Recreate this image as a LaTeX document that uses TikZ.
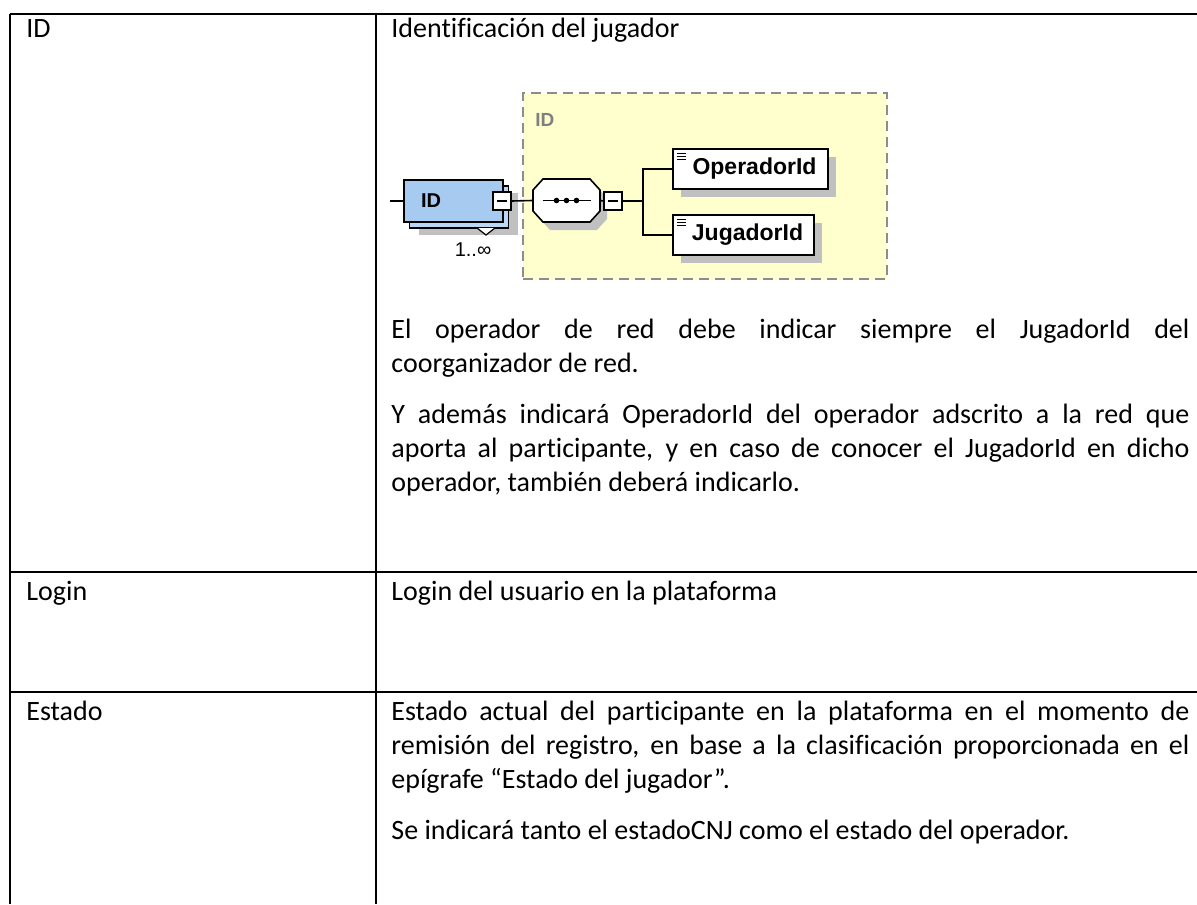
\documentclass[tikz,border=0pt]{standalone}
\usepackage{fontspec}
\setmainfont{Carlito}[Ligatures=CommonOff]
\newfontfamily\xsdfont{Liberation Sans}

\definecolor{boxyellow}{RGB}{255,255,206}
\definecolor{dashgray}{RGB}{140,140,140}
\definecolor{labelgray}{RGB}{128,128,128}
\definecolor{shadowgray}{RGB}{192,192,192}
\definecolor{bluefront}{RGB}{166,202,240}
\definecolor{blueback}{RGB}{186,214,244}

\newcommand{\fullline}[1]{\makebox[399pt][s]{#1}}

\begin{document}
\begin{tikzpicture}[x=0.5pt,y=-0.5pt,
    tableline/.style={line width=1.3pt},
    cell/.style={anchor=base west,inner sep=0pt,font=\fontsize{14}{17}\selectfont},
    dashbox/.style={draw=dashgray,fill=boxyellow,line width=0.8pt,dash pattern=on 5pt off 3pt,inner sep=0pt},
    elem/.style={draw,fill=white,line width=0.8pt,rectangle,inner sep=0pt,font=\xsdfont\bfseries\fontsize{11.5}{13}\selectfont},
    shade/.style={fill=shadowgray,rectangle,inner sep=0pt},
    minusbox/.style={draw,fill=white,line width=0.8pt,minimum size=9pt,inner sep=0pt}]
        \useasboundingbox (0,0) rectangle (1197,904);

        % table
        \draw[tableline] (10,14) -- (1197,14);
        \draw[tableline] (10,572) -- (1197,572);
        \draw[tableline] (10,692) -- (1197,692);
        \draw[tableline] (10,14) -- (10,904);
        \draw[tableline] (376,14) -- (376,904);

        \node[cell] (k1) at (26,38) {ID};
        \node[cell] (k2) at (26,600) {Login};
        \node[cell] (k3) at (26,720) {Estado};

        \node[cell] (d1a) at (391,38) {Identificación del jugador};
        \node[cell] (d1b) at (391,338) {\fullline{El operador de red debe indicar siempre el JugadorId del}};
        \node[cell] (d1c) at (391,372) {coorganizador de red.};
        \node[cell] (d1d) at (391,423) {\fullline{Y además indicará OperadorId del operador adscrito a la red que}};
        \node[cell] (d1e) at (391,457) {\fullline{aporta al participante, y en caso de conocer el JugadorId en dicho}};
        \node[cell] (d1f) at (391,491) {operador, también deberá indicarlo.};
        \node[cell] (d2a) at (391,600) {Login del usuario en la plataforma};
        \node[cell] (d3a) at (391,720) {\fullline{Estado actual del participante en la plataforma en el momento de}};
        \node[cell] (d3b) at (391,754) {\fullline{remisión del registro, en base a la clasificación proporcionada en el}};
        \node[cell] (d3c) at (391,788) {epígrafe “Estado del jugador”.};
        \node[cell] (d3d) at (391,839) {Se indicará tanto el estadoCNJ como el estado del operador.};

        % schema picture
        \node[dashbox,minimum width=182pt,minimum height=93pt] (grp) at (705,186) {};
        \node[anchor=north west,inner sep=0pt,text=labelgray,font=\xsdfont\bfseries\fontsize{9.5}{11}\selectfont] (grplabel) at (535,113) {ID};

        \node[shade,minimum width=49.5pt,minimum height=21pt] (idshade) at (468,214) {};
        \node[shade,minimum width=77.5pt,minimum height=20pt] (opshade) at (758.5,177) {};
        \node[shade,minimum width=70.5pt,minimum height=20pt] (jugshade) at (751.5,243) {};
        \fill[shadowgray] (550,187) -- (597,187) -- (607,198) -- (607,219) -- (597,230) -- (550,230) -- (540,219) -- (540,198) -- cycle;

        \node[elem,fill=blueback,minimum width=49.5pt,minimum height=21pt] (idback) at (459,207) {};
        \node[elem,fill=bluefront,minimum width=49.5pt,minimum height=21pt] (idelem) at (453.5,201) {};
        \node[font=\xsdfont\bfseries\fontsize{10}{12}\selectfont,inner sep=0pt] (idname) at (431,201) {ID};
        \draw[fill=white,line width=0.6pt] (477,228) -- (486,235) -- (495,228);
        \node[font=\xsdfont\fontsize{10}{12}\selectfont,inner sep=0pt] (mult) at (473,250) {1..∞};

        \node[minusbox] (sq1) at (502,201) {};
        \node[minimum width=33.5pt,minimum height=21.5pt,inner sep=0pt] (seq) at (566.5,200.5) {};
        \draw[fill=white,line width=0.8pt] (543,179) -- (590,179) -- (600,190) -- (600,211) -- (590,222) -- (543,222) -- (533,211) -- (533,190) -- cycle;
        \node[minusbox] (sq2) at (613,201) {};
        \draw[line width=0.8pt] (sq1.center) +(-5,0) -- +(5,0);
        \draw[line width=0.8pt] (sq2.center) +(-5,0) -- +(5,0);
        \draw[line width=0.8pt] (seq.center) +(-24,0) -- +(24,0);
        \fill (seq.center) ++(-10,0) circle (1.4pt) ++(10,0) circle (1.4pt) ++(10,0) circle (1.4pt);

        \node[elem,minimum width=77.5pt,minimum height=20pt] (op) at (750.5,169) {\hspace{4pt}OperadorId};
        \node[elem,minimum width=70.5pt,minimum height=20pt] (jug) at (743.5,235) {\hspace{4pt}JugadorId};
        \foreach \b in {op,jug}
            \foreach \k in {0,1,2}
                \draw[line width=0.5pt] ([shift={(5,5+3*\k)}]\b.north west) -- ++(9,0);

        \coordinate (lin) at (390,201);
        \coordinate (fork) at (643,201);
        \draw[line width=0.8pt] (lin) -- (idelem.west);
        \draw[line width=0.8pt] (sq1.east) -- (seq.west);
        \draw[line width=0.8pt] (seq.east) -- (sq2.west);
        \draw[line width=0.8pt] (sq2.east) -- (fork);
        \draw[line width=0.8pt] (fork) |- (op.west);
        \draw[line width=0.8pt] (fork) |- (jug.west);
\end{tikzpicture}
\end{document}
